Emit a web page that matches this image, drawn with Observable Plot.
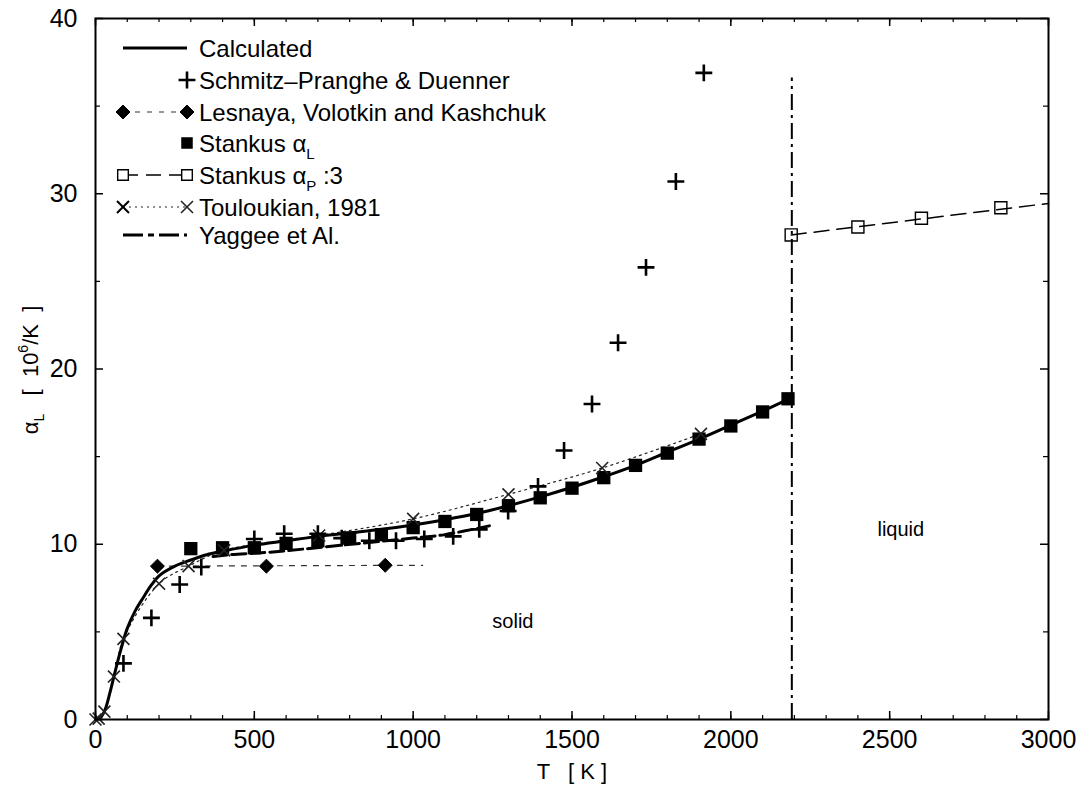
<!DOCTYPE html>
<html>
<head>
<meta charset="utf-8">
<script src="https://cdn.jsdelivr.net/npm/d3@7"></script>
<script src="https://cdn.jsdelivr.net/npm/@observablehq/plot@0.6"></script>
<style>
  body { margin: 0; background: #fff; }
  #chart { width: 1082px; height: 796px; }
  svg { font-family: "Liberation Sans", Arial, Helvetica, sans-serif; }
</style>
</head>
<body>
<div id="chart"></div>
<script>
// Linear thermal expansion coefficient alpha_L [10^6/K] versus temperature T [K]

// Calculated curve
const calcT = [0, 15, 30, 45, 60, 80, 100, 125, 150, 175, 200, 250, 300, 350, 400, 500, 600, 700, 800, 900, 1000, 1100, 1200, 1300, 1400, 1500, 1600, 1700, 1800, 1900, 2000, 2100, 2190];
const calcA = [0, 0.1, 0.55, 1.5, 2.6, 4.0, 5.2, 6.2, 6.95, 7.65, 8.2, 8.75, 9.1, 9.4, 9.6, 9.95, 10.2, 10.45, 10.65, 10.85, 11.1, 11.4, 11.75, 12.2, 12.7, 13.25, 13.85, 14.5, 15.25, 16.0, 16.8, 17.6, 18.35];

// Schmitz-Pranghe & Duenner
const schmitzT = [88, 176, 265, 333, 500, 594, 700, 775, 862, 946, 1035, 1126, 1208, 1299, 1393, 1475, 1563, 1645, 1733, 1827, 1915];
const schmitzA = [3.2, 5.8, 7.7, 8.7, 10.3, 10.6, 10.6, 10.35, 10.2, 10.2, 10.3, 10.45, 10.85, 11.9, 13.3, 15.35, 18.0, 21.5, 25.8, 30.7, 36.9];

// Lesnaya, Volotkin and Kashchuk
const lesnayaT = [195, 538, 912];
const lesnayaA = [8.75, 8.75, 8.8];
const lesnayaFitT = [195, 1030];
const lesnayaFitA = [8.75, 8.8];

// Stankus alpha_L
const stankusLT = [300, 400, 500, 600, 700, 800, 900, 1000, 1100, 1200, 1300, 1400, 1500, 1600, 1700, 1800, 1900, 2000, 2100, 2180];
const stankusLA = [9.75, 9.8, 9.8, 10.05, 10.2, 10.35, 10.55, 10.95, 11.3, 11.7, 12.2, 12.65, 13.2, 13.8, 14.5, 15.2, 16.0, 16.75, 17.55, 18.3];

// Stankus alpha_P divided by 3 (liquid)
const stankusPT = [2190, 2400, 2600, 2850];
const stankusPA = [27.65, 28.1, 28.6, 29.2];
const stankusPFitT = [2190, 3000];
const stankusPFitA = [27.65, 29.45];

// Touloukian, 1981
const toulT = [0, 10, 28, 58, 88, 200, 293, 405, 704, 1000, 1300, 1595, 1906];
const toulA = [0, 0.05, 0.45, 2.45, 4.6, 7.75, 8.75, 9.65, 10.5, 11.45, 12.85, 14.35, 16.3];

// Yaggee et Al.
const yaggeeT = [370, 420, 550, 750, 1000, 1100, 1240];
const yaggeeA = [9.3, 9.4, 9.55, 9.9, 10.35, 10.55, 11.05];

// Melting point marker
const meltT = 2192;
const meltTop = 36.6;

// Axis ticks
const xMajor = [0, 500, 1000, 1500, 2000, 2500, 3000];
const xMinor = d3.range(0, 3001, 100);
const yMajor = [0, 10, 20, 30, 40];
const yMinor = [5, 15, 25, 35];

// Phase labels
const phaseLabels = [
  {T: 1314, a: 5.6, text: "solid"},
  {T: 2535, a: 10.85, text: "liquid"}
];

const zip = (xs, ys) => xs.map((t, i) => ({T: t, a: ys[i]}));

const calc = zip(calcT, calcA);
const schmitz = zip(schmitzT, schmitzA);
const lesnaya = zip(lesnayaT, lesnayaA);
const lesnayaFit = zip(lesnayaFitT, lesnayaFitA);
const stankusL = zip(stankusLT, stankusLA);
const stankusP = zip(stankusPT, stankusPA);
const stankusPFit = zip(stankusPFitT, stankusPFitA);
const toul = zip(toulT, toulA);
const yaggee = zip(yaggeeT, yaggeeA);

const W = 1082, H = 796;
const mL = 95, mR = 34, mT = 18, mB = 77;
const frameH = H - mT - mB;
const frameW = W - mL - mR;

const fontFamily = '"Liberation Sans", Arial, Helvetica, sans-serif';

const chart = Plot.plot({
  width: W,
  height: H,
  marginLeft: mL,
  marginRight: mR,
  marginTop: mT,
  marginBottom: mB,
  x: {domain: [0, 3000]},
  y: {domain: [0, 40]},
  style: {fontFamily, fontSize: "25px", color: "black", background: "white"},
  marks: [
    // inward ticks on all four sides
    Plot.tickX(xMinor, {x: d => d, insetTop: frameH - 4, strokeWidth: 1.2}),
    Plot.tickX(xMinor, {x: d => d, insetBottom: frameH - 4, strokeWidth: 1.2}),
    Plot.tickX(xMajor, {x: d => d, insetTop: frameH - 8, strokeWidth: 1.5}),
    Plot.tickX(xMajor, {x: d => d, insetBottom: frameH - 8, strokeWidth: 1.5}),
    Plot.tickY(yMinor, {y: d => d, insetRight: frameW - 5, strokeWidth: 1.2}),
    Plot.tickY(yMinor, {y: d => d, insetLeft: frameW - 5, strokeWidth: 1.2}),
    Plot.tickY(yMajor, {y: d => d, insetRight: frameW - 8, strokeWidth: 1.5}),
    Plot.tickY(yMajor, {y: d => d, insetLeft: frameW - 8, strokeWidth: 1.5}),
    Plot.axisX({ticks: xMajor, tickSize: 0, tickPadding: 11, label: null, fontSize: 25, tickFormat: d => String(d)}),
    Plot.axisY({ticks: yMajor, tickSize: 0, tickPadding: 18, label: null, fontSize: 25, tickFormat: d => String(d)}),

    // melting point
    Plot.ruleX([meltT], {y1: 0, y2: meltTop, stroke: "black", strokeWidth: 2, strokeDasharray: "16,5,3,5"}),

    // Lesnaya fit line and points
    Plot.line(lesnayaFit, {x: "T", y: "a", stroke: "#333", strokeWidth: 1.2, strokeDasharray: "5,7"}),
    Plot.dot(lesnaya, {x: "T", y: "a", symbol: "diamond2", r: 6.3, fill: "black", stroke: "black", strokeWidth: 1}),

    // Touloukian dotted line
    Plot.line(toul, {x: "T", y: "a", stroke: "#222", strokeWidth: 1.2, strokeDasharray: "2,4", curve: "catmull-rom"}),

    // Yaggee et Al.
    Plot.line(yaggee, {x: "T", y: "a", stroke: "black", strokeWidth: 3, strokeDasharray: "14,5", curve: "catmull-rom"}),

    // Calculated
    Plot.line(calc, {x: "T", y: "a", stroke: "black", strokeWidth: 3, curve: "catmull-rom"}),

    // Stankus alpha_L
    Plot.dot(stankusL, {x: "T", y: "a", symbol: "square", r: 7.5, fill: "black"}),

    // Stankus alpha_P : 3
    Plot.line(stankusPFit, {x: "T", y: "a", stroke: "black", strokeWidth: 1.5, strokeDasharray: "15,8"}),
    Plot.dot(stankusP, {x: "T", y: "a", symbol: "square", r: 6.8, fill: "none", stroke: "black", strokeWidth: 1.4}),

    // Touloukian markers
    Plot.dot(toul, {x: "T", y: "a", symbol: "times", r: 5.5, stroke: "#222", strokeWidth: 1.6}),

    // Schmitz-Pranghe & Duenner
    Plot.dot(schmitz, {x: "T", y: "a", symbol: "plus", r: 5.5, stroke: "black", strokeWidth: 2.6}),

    // phase labels
    Plot.text(phaseLabels, {x: "T", y: "a", text: "text", fontSize: 20, fill: "black"}),

    Plot.frame({stroke: "black", strokeWidth: 2})
  ]
});

document.getElementById("chart").appendChild(chart);

const svg = d3.select(chart);

// axis titles
svg.append("text")
  .attr("x", 572).attr("y", 779)
  .attr("text-anchor", "middle")
  .attr("font-size", 22)
  .attr("fill", "black")
  .attr("xml:space", "preserve")
  .text("T   [ K ]");

const yTitle = svg.append("text")
  .attr("transform", "translate(38,370) rotate(-90)")
  .attr("text-anchor", "middle")
  .attr("font-size", 22)
  .attr("fill", "black")
  .attr("xml:space", "preserve");
yTitle.append("tspan").text("α");
yTitle.append("tspan").attr("font-size", 14).attr("dy", 6).text("L");
yTitle.append("tspan").attr("dy", -6).text("   [  10");
yTitle.append("tspan").attr("font-size", 14).attr("dy", -10).text("6");
yTitle.append("tspan").attr("dy", 10).text("/K  ]");

// legend
const lg = svg.append("g")
  .attr("font-size", 24)
  .attr("fill", "black")
  .attr("text-anchor", "start");
const lx0 = 123, lx1 = 187, tx = 199;
const rowY = [48, 80, 112, 143, 175, 207, 235];
const sym = (type, r) => d3.symbol(type, Math.PI * r * r)();

function legendText(y, parts) {
  const t = lg.append("text").attr("x", tx).attr("y", y + 9).attr("xml:space", "preserve");
  for (const p of parts) {
    const s = t.append("tspan").text(p.text);
    if (p.sub) s.attr("font-size", 15).attr("dy", 7);
    if (p.back) s.attr("dy", -7);
  }
}
function marker(x, y, type, r, style) {
  const p = lg.append("path").attr("d", sym(type, r)).attr("transform", `translate(${x},${y})`);
  for (const k in style) p.attr(k, style[k]);
}
function seg(y, style) {
  const l = lg.append("line").attr("x1", lx0).attr("x2", lx1).attr("y1", y).attr("y2", y);
  for (const k in style) l.attr(k, style[k]);
}

// Calculated
seg(rowY[0], {stroke: "black", "stroke-width": 3});
legendText(rowY[0], [{text: "Calculated"}]);
// Schmitz
marker(lx1, rowY[1], d3.symbolPlus, 5.5, {fill: "none", stroke: "black", "stroke-width": 2.6});
legendText(rowY[1], [{text: "Schmitz–Pranghe & Duenner"}]);
// Lesnaya
seg(rowY[2], {stroke: "#333", "stroke-width": 1.2, "stroke-dasharray": "5,7"});
marker(lx0, rowY[2], d3.symbolDiamond2, 6.3, {fill: "black", stroke: "black"});
marker(lx1, rowY[2], d3.symbolDiamond2, 6.3, {fill: "black", stroke: "black"});
legendText(rowY[2], [{text: "Lesnaya, Volotkin and Kashchuk"}]);
// Stankus alpha_L
marker(lx1, rowY[3], d3.symbolSquare, 6.5, {fill: "black"});
legendText(rowY[3], [{text: "Stankus α"}, {text: "L", sub: true}]);
// Stankus alpha_P : 3
seg(rowY[4], {stroke: "black", "stroke-width": 1.5, "stroke-dasharray": "15,8"});
marker(lx0, rowY[4], d3.symbolSquare, 6, {fill: "white", stroke: "black", "stroke-width": 1.4});
marker(lx1, rowY[4], d3.symbolSquare, 6, {fill: "white", stroke: "black", "stroke-width": 1.4});
legendText(rowY[4], [{text: "Stankus α"}, {text: "P", sub: true}, {text: " :3", back: true}]);
// Touloukian
seg(rowY[5], {stroke: "#222", "stroke-width": 1.2, "stroke-dasharray": "2,4"});
marker(lx0, rowY[5], d3.symbolTimes, 5.5, {fill: "none", stroke: "black", "stroke-width": 2});
marker(lx1, rowY[5], d3.symbolTimes, 5.5, {fill: "none", stroke: "#222", "stroke-width": 1.6});
legendText(rowY[5], [{text: "Touloukian, 1981"}]);
// Yaggee
seg(rowY[6], {stroke: "black", "stroke-width": 3, "stroke-dasharray": "20,5,6,5"});
legendText(rowY[6], [{text: "Yaggee et Al."}]);
</script>
</body>
</html>
